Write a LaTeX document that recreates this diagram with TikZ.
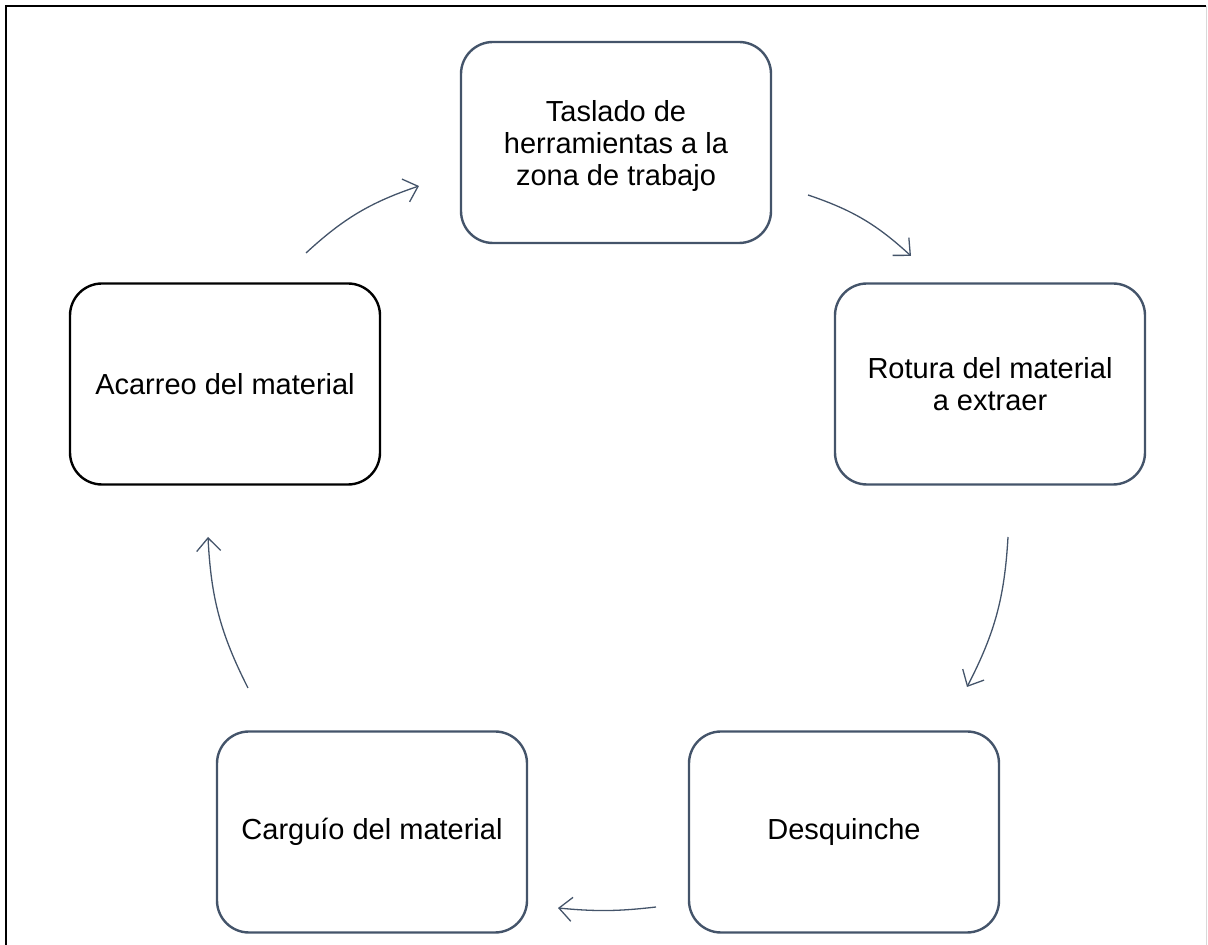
\documentclass[tikz,border=0pt]{standalone}
\usepackage{fontspec}
\setmainfont{Liberation Sans}
\usetikzlibrary{arrows.meta}
\definecolor{slate}{HTML}{44546A}
\begin{document}
\begin{tikzpicture}[x=1pt,y=1pt,
  stepbox/.style={draw=slate, line width=2.4pt, rounded corners=32pt, minimum width=310pt, minimum height=201pt, align=center, font=\fontsize{29}{32}\selectfont, inner sep=0pt},
  steptext/.style={align=center, font=\fontsize{29}{32}\selectfont, inner sep=0pt},
  cyc/.style={draw=slate, line width=1.3pt, -{Straight Barb[length=13pt,width=24pt,line width=1.3pt]}}]
\useasboundingbox (0,0) rectangle (1208,945);
\draw[line width=2.2pt, black] (6,0) -- (6,939) -- (1206,939);
\draw[line width=1pt, black!15] (1206.5,939) -- (1206.5,0);
\node[stepbox] (t) at (616,802.5) {};
\node[steptext] (tt) at ([yshift=-4pt]t.center) {Taslado de\\herramientas a la\\zona de trabajo};
\node[stepbox] (r) at (990,561) {Rotura del material\\a extraer};
\node[stepbox] (d) at (844,113) {Desquinche};
\node[stepbox] (c) at (372,113) {Carguío del material};
\node[stepbox, draw=black] (a) at (225,561) {Acarreo del material};
\coordinate (a1s) at (306,692); \coordinate (a1e) at (419,759);
\coordinate (a2s) at (808,750); \coordinate (a2e) at (911,689);
\coordinate (a3s) at (1008,408); \coordinate (a3e) at (967,258);
\coordinate (a4s) at (656,38); \coordinate (a4e) at (558,37);
\coordinate (a5s) at (248,257); \coordinate (a5e) at (208,408);
\draw[cyc] (a1s) to[bend left=12] (a1e);
\draw[cyc] (a2s) to[bend left=12] (a2e);
\draw[cyc] (a3s) to[bend left=12] (a3e);
\draw[cyc] (a4s) to[bend left=6] (a4e);
\draw[cyc] (a5s) to[bend left=12] (a5e);
\end{tikzpicture}
\end{document}
